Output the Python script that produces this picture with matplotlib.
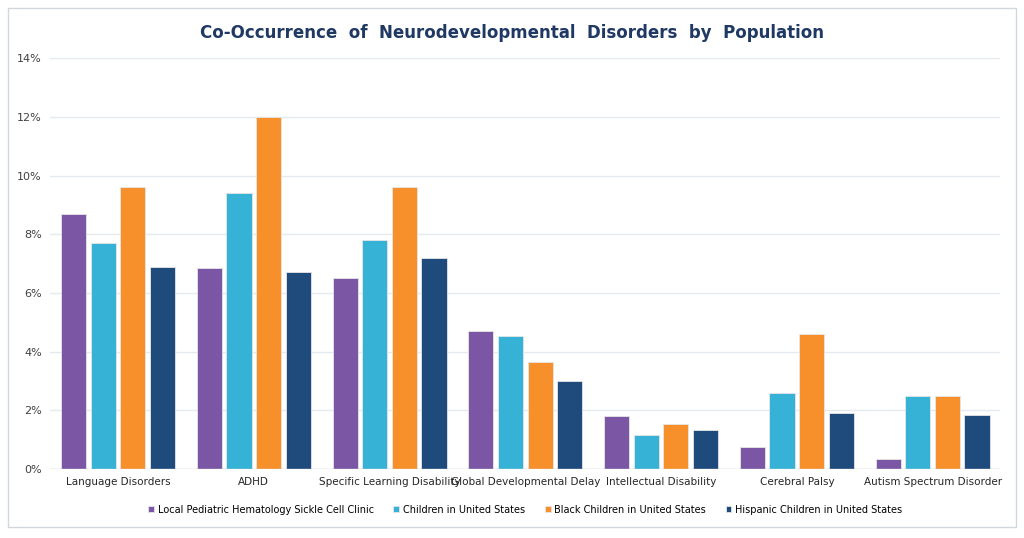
import matplotlib.pyplot as plt
import numpy as np
from matplotlib.patches import Rectangle

categories = ["Language Disorders", "ADHD", "Specific Learning Disability",
              "Global Developmental Delay", "Intellectual Disability",
              "Cerebral Palsy", "Autism Spectrum Disorder"]
series_names = ["Local Pediatric Hematology Sickle Cell Clinic",
                "Children in United States",
                "Black Children in United States",
                "Hispanic Children in United States"]
local_clinic = [8.7, 6.85, 6.5, 4.7, 1.8, 0.75, 0.35]
children_us = [7.7, 9.4, 7.8, 4.55, 1.15, 2.6, 2.5]
black_us = [9.6, 12.0, 9.6, 3.65, 1.55, 4.6, 2.5]
hispanic_us = [6.9, 6.7, 7.2, 3.0, 1.35, 1.9, 1.85]
colors = ["#7B56A4", "#35B2D6", "#F78F2A", "#1F4A7C"]

fig = plt.figure(figsize=(10.24, 5.38), dpi=100)
fig.patches.append(Rectangle((0.008, 0.02), 0.984, 0.965, transform=fig.transFigure,
                             fill=False, edgecolor="#D0D8DE", linewidth=1))
ax = fig.add_axes([0.049, 0.128, 0.928, 0.764])

x = np.arange(len(categories))
w = 0.185
for i, (vals, c, name) in enumerate(zip([local_clinic, children_us, black_us, hispanic_us],
                                        colors, series_names)):
    ax.bar(x + (i - 1.5) * 0.218, vals, w, color=c, label=name, zorder=3,
           edgecolor="#E6E6E6", linewidth=0.6)

ax.set_ylim(0, 14)
ax.set_xlim(-0.5, len(categories) - 0.5)
ax.set_yticks(range(0, 15, 2))
ax.set_yticklabels([f"{v}%" for v in range(0, 15, 2)], fontsize=8, color="#404040")
ax.set_xticks(x)
ax.set_xticklabels(categories, fontsize=7.5, color="#262626")
ax.tick_params(length=0, pad=6)
ax.grid(axis="y", color="#E3EAF0", linewidth=1, zorder=0)
for s in ax.spines.values():
    s.set_visible(False)
ax.axhline(0, color="#D0D8DE", linewidth=1, zorder=4)

fig.suptitle("Co-Occurrence  of  Neurodevelopmental  Disorders  by  Population",
             fontsize=12, fontweight="bold", color="#1F3864", y=0.955)
ax.legend(loc="upper center", bbox_to_anchor=(0.5, -0.065), ncol=4, frameon=False,
          fontsize=7, handlelength=0.6, handleheight=0.6, columnspacing=2.0,
          handletextpad=0.4)

fig.savefig("out.png", dpi=100)
